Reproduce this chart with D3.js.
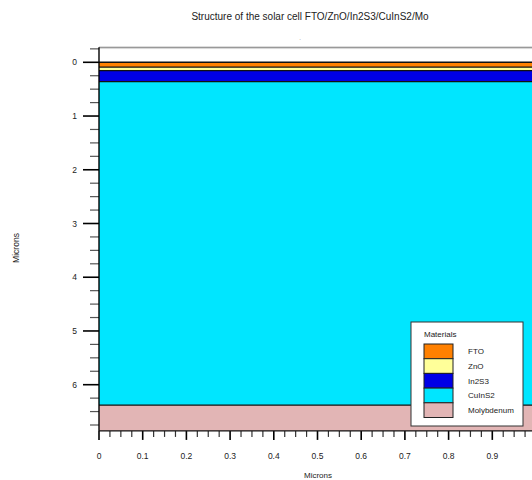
<!DOCTYPE html>
<html>
<head>
<meta charset="utf-8">
<script src="https://cdn.jsdelivr.net/npm/d3@7"></script>
<style>
  body { margin: 0; background: #fff; overflow: hidden; }
  text { font-family: "Liberation Sans", Arial, sans-serif; fill: #222; }
</style>
</head>
<body>
<div class="chart"></div>
<script>
// layer stack (microns, top to bottom)
var materials = ["FTO", "ZnO", "In2S3", "CuInS2", "Molybdenum"];
var layerTop = [0, 0.09, 0.155, 0.36, 6.38];
var layerBottom = [0.09, 0.155, 0.36, 6.38, 6.86];
var colors = ["#ff8000", "#ffff99", "#0000e6", "#00e6ff", "#e2b5b5"];
var xTicks = [0, 0.1, 0.2, 0.3, 0.4, 0.5, 0.6, 0.7, 0.8, 0.9];
var yTicks = [0, 1, 2, 3, 4, 5, 6];

var svgWidth = 532, svgHeight = 480;

var svg = d3.select(".chart").append("svg")
  .attr("width", svgWidth)
  .attr("height", svgHeight);

// scales: y=0 at 62.3, 6 microns = 322.4px
var x = d3.scaleLinear().domain([0, 1]).range([99, 536]);
var y = d3.scaleLinear().domain([0, 6]).range([62.3, 384.7]);
var yMin = -0.28, yMax = 6.86;

// empty plot background
svg.append("rect")
  .attr("x", x(0)).attr("y", y(yMin))
  .attr("width", x(1.05) - x(0)).attr("height", y(yMax) - y(yMin))
  .attr("fill", "#fff");

// layers
svg.selectAll(".layer")
  .data(materials)
  .enter()
  .append("rect")
  .attr("class", "layer")
  .attr("x", x(0))
  .attr("y", function(d, i) { return y(layerTop[i]); })
  .attr("width", x(1.05) - x(0))
  .attr("height", function(d, i) { return y(layerBottom[i]) - y(layerTop[i]); })
  .attr("fill", function(d, i) { return colors[i]; });

// boundaries between layers
svg.selectAll(".boundary")
  .data(layerTop)
  .enter()
  .append("line")
  .attr("x1", x(0)).attr("x2", x(1.05))
  .attr("y1", function(d) { return y(d); })
  .attr("y2", function(d) { return y(d); })
  .attr("stroke", "#111")
  .attr("stroke-width", 1.4);

// top frame line
svg.append("line")
  .attr("x1", x(0)).attr("x2", x(1.05))
  .attr("y1", y(yMin)).attr("y2", y(yMin))
  .attr("stroke", "#777").attr("stroke-width", 1.2);
svg.append("line")
  .attr("x1", x(0)).attr("x2", x(1.05))
  .attr("y1", y(yMin) + 1.3).attr("y2", y(yMin) + 1.3)
  .attr("stroke", "#ccc").attr("stroke-width", 0.8);

// y axis ticks
var yMinor = d3.range(-0.25, 6.8, 0.25).filter(function(v) { return Math.abs(v - Math.round(v)) > 0.01; });
svg.selectAll(".ymin")
  .data(yMinor)
  .enter()
  .append("line")
  .attr("x1", 90).attr("x2", x(0))
  .attr("y1", function(d) { return y(d); })
  .attr("y2", function(d) { return y(d); })
  .attr("stroke", "#555").attr("stroke-width", 1.2);
svg.selectAll(".ymaj")
  .data(yTicks)
  .enter()
  .append("line")
  .attr("x1", 83).attr("x2", x(0))
  .attr("y1", function(d) { return y(d); })
  .attr("y2", function(d) { return y(d); })
  .attr("stroke", "#000").attr("stroke-width", 1.6);
svg.selectAll(".ylab")
  .data(yTicks)
  .enter()
  .append("text")
  .attr("x", 77)
  .attr("y", function(d) { return y(d) + 3; })
  .attr("text-anchor", "end")
  .attr("font-size", "8.5px")
  .text(function(d) { return d; });

// x axis ticks
var xMinor = d3.range(0, 1.01, 0.025).filter(function(v) { return Math.abs(v * 10 - Math.round(v * 10)) > 0.01; });
var xBase = y(yMax);
svg.selectAll(".xmin")
  .data(xMinor)
  .enter()
  .append("line")
  .attr("x1", function(d) { return x(d); })
  .attr("x2", function(d) { return x(d); })
  .attr("y1", xBase).attr("y2", xBase + 6)
  .attr("stroke", "#333").attr("stroke-width", 1.2);
svg.selectAll(".xmaj")
  .data(xTicks.concat([1.0]))
  .enter()
  .append("line")
  .attr("x1", function(d) { return x(d); })
  .attr("x2", function(d) { return x(d); })
  .attr("y1", xBase).attr("y2", xBase + 9)
  .attr("stroke", "#000").attr("stroke-width", 1.6);
svg.selectAll(".xlab")
  .data(xTicks)
  .enter()
  .append("text")
  .attr("x", function(d) { return x(d); })
  .attr("y", 459)
  .attr("text-anchor", "middle")
  .attr("font-size", "8.5px")
  .text(function(d) { return d === 0 ? "0" : d3.format(".1f")(d); });

// axis lines
svg.append("line")
  .attr("x1", x(0)).attr("x2", x(0))
  .attr("y1", y(yMin)).attr("y2", xBase)
  .attr("stroke", "#000").attr("stroke-width", 1.4);
svg.append("line")
  .attr("x1", x(0)).attr("x2", x(1.05))
  .attr("y1", xBase).attr("y2", xBase)
  .attr("stroke", "#111").attr("stroke-width", 1.2);

// titles
svg.append("text")
  .attr("x", 310).attr("y", 20)
  .attr("text-anchor", "middle")
  .attr("font-size", "10px")
  .text("Structure of the solar cell FTO/ZnO/In2S3/CuInS2/Mo");
svg.append("text")
  .attr("x", 300).attr("y", 40)
  .attr("text-anchor", "middle")
  .attr("font-size", "6px")
  .style("fill", "#777")
  .text(".");
svg.append("text")
  .attr("transform", "translate(19,248) rotate(-90)")
  .attr("text-anchor", "middle")
  .attr("font-size", "8.5px")
  .text("Microns");
svg.append("text")
  .attr("x", 318).attr("y", 478)
  .attr("text-anchor", "middle")
  .attr("font-size", "8px")
  .text("Microns");

// legend
var legend = svg.append("g").attr("transform", "translate(411,322)");
legend.append("rect")
  .attr("width", 112).attr("height", 104)
  .attr("fill", "#fff")
  .attr("stroke", "#333").attr("stroke-width", 1);
legend.append("text")
  .attr("x", 13).attr("y", 15)
  .attr("font-size", "8px")
  .text("Materials");
var rowH = 14.7;
legend.selectAll(".sw")
  .data(materials)
  .enter()
  .append("rect")
  .attr("x", 13)
  .attr("y", function(d, i) { return 22 + i * rowH; })
  .attr("width", 29).attr("height", rowH)
  .attr("fill", function(d, i) { return colors[i]; })
  .attr("stroke", "#222").attr("stroke-width", 1);
legend.selectAll(".lt")
  .data(materials)
  .enter()
  .append("text")
  .attr("x", 57)
  .attr("y", function(d, i) { return 22 + i * rowH + rowH / 2 + 3; })
  .attr("font-size", "8px")
  .text(function(d) { return d; });
</script>
</body>
</html>
